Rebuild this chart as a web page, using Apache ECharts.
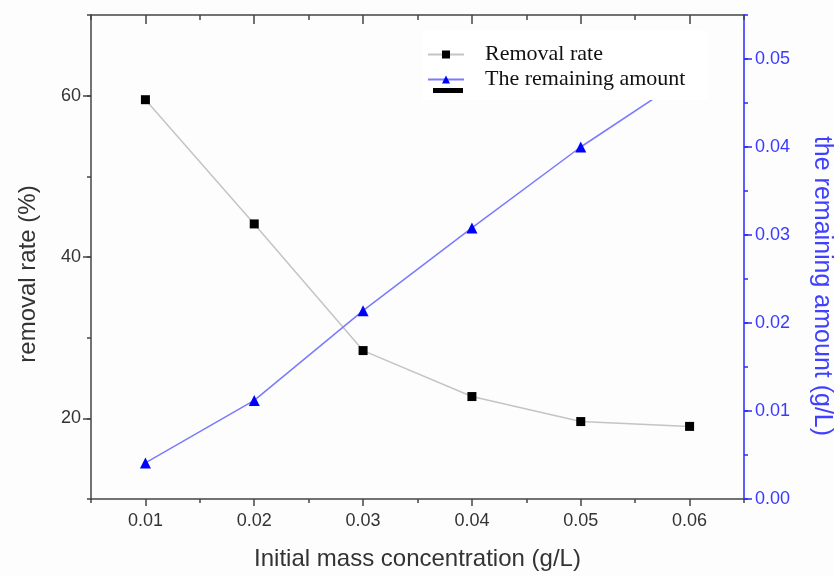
<!DOCTYPE html>
<html>
<head>
<meta charset="utf-8">
<script src="https://cdn.jsdelivr.net/npm/echarts@6/dist/echarts.min.js"></script>
<style>
html,body{margin:0;padding:0;background:#fdfdfd;}
#chart{width:834px;height:576px;}
</style>
</head>
<body>
<div id="chart"></div>
<script>
// Data
const concentrations = [0.01, 0.02, 0.03, 0.04, 0.05, 0.06];
const removalRate = [59.5, 44.1, 28.4, 22.7, 19.6, 19.0];
const remainingAmount = [0.0041, 0.0112, 0.0214, 0.0308, 0.0400, 0.0482];
const xTickLabels = [0.01, 0.02, 0.03, 0.04, 0.05, 0.06];
const leftTickLabels = [20, 40, 60];
const rightTickLabels = [0, 0.01, 0.02, 0.03, 0.04, 0.05];

const seriesNames = ['Removal rate', 'The remaining amount'];
const axisTitles = {
  x: 'Initial mass concentration (g/L)',
  left: 'removal rate (%)',
  right: 'the remaining amount (g/L)'
};

const chart = echarts.init(document.getElementById('chart'), null, {renderer: 'canvas'});

const grey = '#444';
const blue = '#2a2aff';
const labelFont = {fontFamily: 'Liberation Sans', fontSize: 18, color: '#333'};
const grid = {left: 91, right: 90, top: 15, bottom: 77, containLabel: false, outerBoundsMode: 'none'};

const xBase = {type: 'value', min: 0.005, max: 0.065, interval: 0.005, gridIndex: 0, splitLine: {show: false}};
const yLeftBase = {type: 'value', min: 10, max: 70, interval: 10, splitLine: {show: false}};
const yRightBase = {type: 'value', min: 0, max: 0.055, interval: 0.005, splitLine: {show: false}};

const option = {
  backgroundColor: '#fdfdfd',
  animation: false,
  grid: grid,
  legend: {
    orient: 'vertical',
    left: 422,
    top: 30,
    z: 20,
    backgroundColor: '#ffffff',
    padding: [12, 22, 8, 5],
    itemWidth: 36,
    itemHeight: 10,
    itemGap: 0,
    data: seriesNames,
    textStyle: {fontFamily: 'Liberation Serif', fontSize: 22, color: '#111', lineHeight: 25, padding: [0, 0, 0, 16]}
  },
  xAxis: [
    Object.assign({}, xBase, {
      position: 'bottom',
      name: axisTitles.x, nameLocation: 'middle', nameGap: 48,
      nameTextStyle: {fontFamily: 'Liberation Sans', fontSize: 24, color: '#333'},
      axisLine: {show: true, lineStyle: {color: grey, width: 1.5}},
      axisTick: {show: true, length: 4, inside: false, lineStyle: {color: grey, width: 1.5}},
      axisLabel: Object.assign({}, labelFont, {margin: 13, customValues: xTickLabels, formatter: v => v.toFixed(2)})
    }),
    Object.assign({}, xBase, {
      position: 'bottom',
      axisLine: {show: false},
      axisTick: {show: true, length: 7, customValues: xTickLabels, lineStyle: {color: grey, width: 1.5}},
      axisLabel: {show: false}
    }),
    Object.assign({}, xBase, {
      position: 'top',
      axisLine: {show: true, lineStyle: {color: grey, width: 1.5}},
      axisTick: {show: true, inside: true, length: 5, lineStyle: {color: grey, width: 1.5}},
      axisLabel: {show: false}
    }),
    Object.assign({}, xBase, {
      position: 'top',
      axisLine: {show: false},
      axisTick: {show: true, inside: true, length: 9, customValues: xTickLabels, lineStyle: {color: grey, width: 1.5}},
      axisLabel: {show: false}
    })
  ],
  yAxis: [
    Object.assign({}, yLeftBase, {
      position: 'left',
      name: axisTitles.left, nameLocation: 'middle', nameGap: 51, nameRotate: 90,
      nameTextStyle: {fontFamily: 'Liberation Sans', fontSize: 24, color: '#333', padding: [0, 34, 0, 0]},
      axisLine: {show: true, lineStyle: {color: grey, width: 1.5}},
      axisTick: {show: true, length: 4, lineStyle: {color: grey, width: 1.5}},
      axisLabel: Object.assign({}, labelFont, {margin: 10, customValues: leftTickLabels})
    }),
    Object.assign({}, yRightBase, {
      position: 'right',
      name: axisTitles.right, nameLocation: 'middle', nameGap: 65, nameRotate: -90,
      nameTextStyle: {fontFamily: 'Liberation Sans', fontSize: 25, color: '#4040ff', padding: [0, 0, 0, 58]},
      axisLine: {show: true, lineStyle: {color: blue, width: 1.5}},
      axisTick: {show: true, length: 4, lineStyle: {color: blue, width: 1.5}},
      axisLabel: Object.assign({}, labelFont, {color: '#3a3aff', margin: 11, customValues: rightTickLabels, formatter: v => v.toFixed(2)})
    }),
    Object.assign({}, yLeftBase, {
      position: 'left',
      axisLine: {show: false},
      axisTick: {show: true, length: 8, customValues: leftTickLabels, lineStyle: {color: grey, width: 1.5}},
      axisLabel: {show: false}
    }),
    Object.assign({}, yRightBase, {
      position: 'right',
      axisLine: {show: false},
      axisTick: {show: true, length: 8, customValues: rightTickLabels, lineStyle: {color: blue, width: 1.5}},
      axisLabel: {show: false}
    })
  ],
  series: [
    {
      name: seriesNames[0],
      type: 'line',
      xAxisIndex: 0, yAxisIndex: 0,
      data: concentrations.map((c, i) => [c, removalRate[i]]),
      symbol: 'rect', symbolSize: 9,
      itemStyle: {color: '#000'},
      lineStyle: {color: '#c4c4c4', width: 1.5},
      z: 3
    },
    {
      name: seriesNames[1],
      type: 'line',
      xAxisIndex: 0, yAxisIndex: 1,
      data: concentrations.map((c, i) => [c, remainingAmount[i]]),
      symbol: 'triangle', symbolSize: 11,
      itemStyle: {color: '#0000ff'},
      lineStyle: {color: '#7a7aff', width: 1.5},
      z: 3
    }
  ],
  graphic: [
    {type: 'rect', left: 433, top: 88, z: 30, shape: {width: 30, height: 5}, style: {fill: '#000'}}
  ]
};
chart.setOption(option);
</script>
</body>
</html>
